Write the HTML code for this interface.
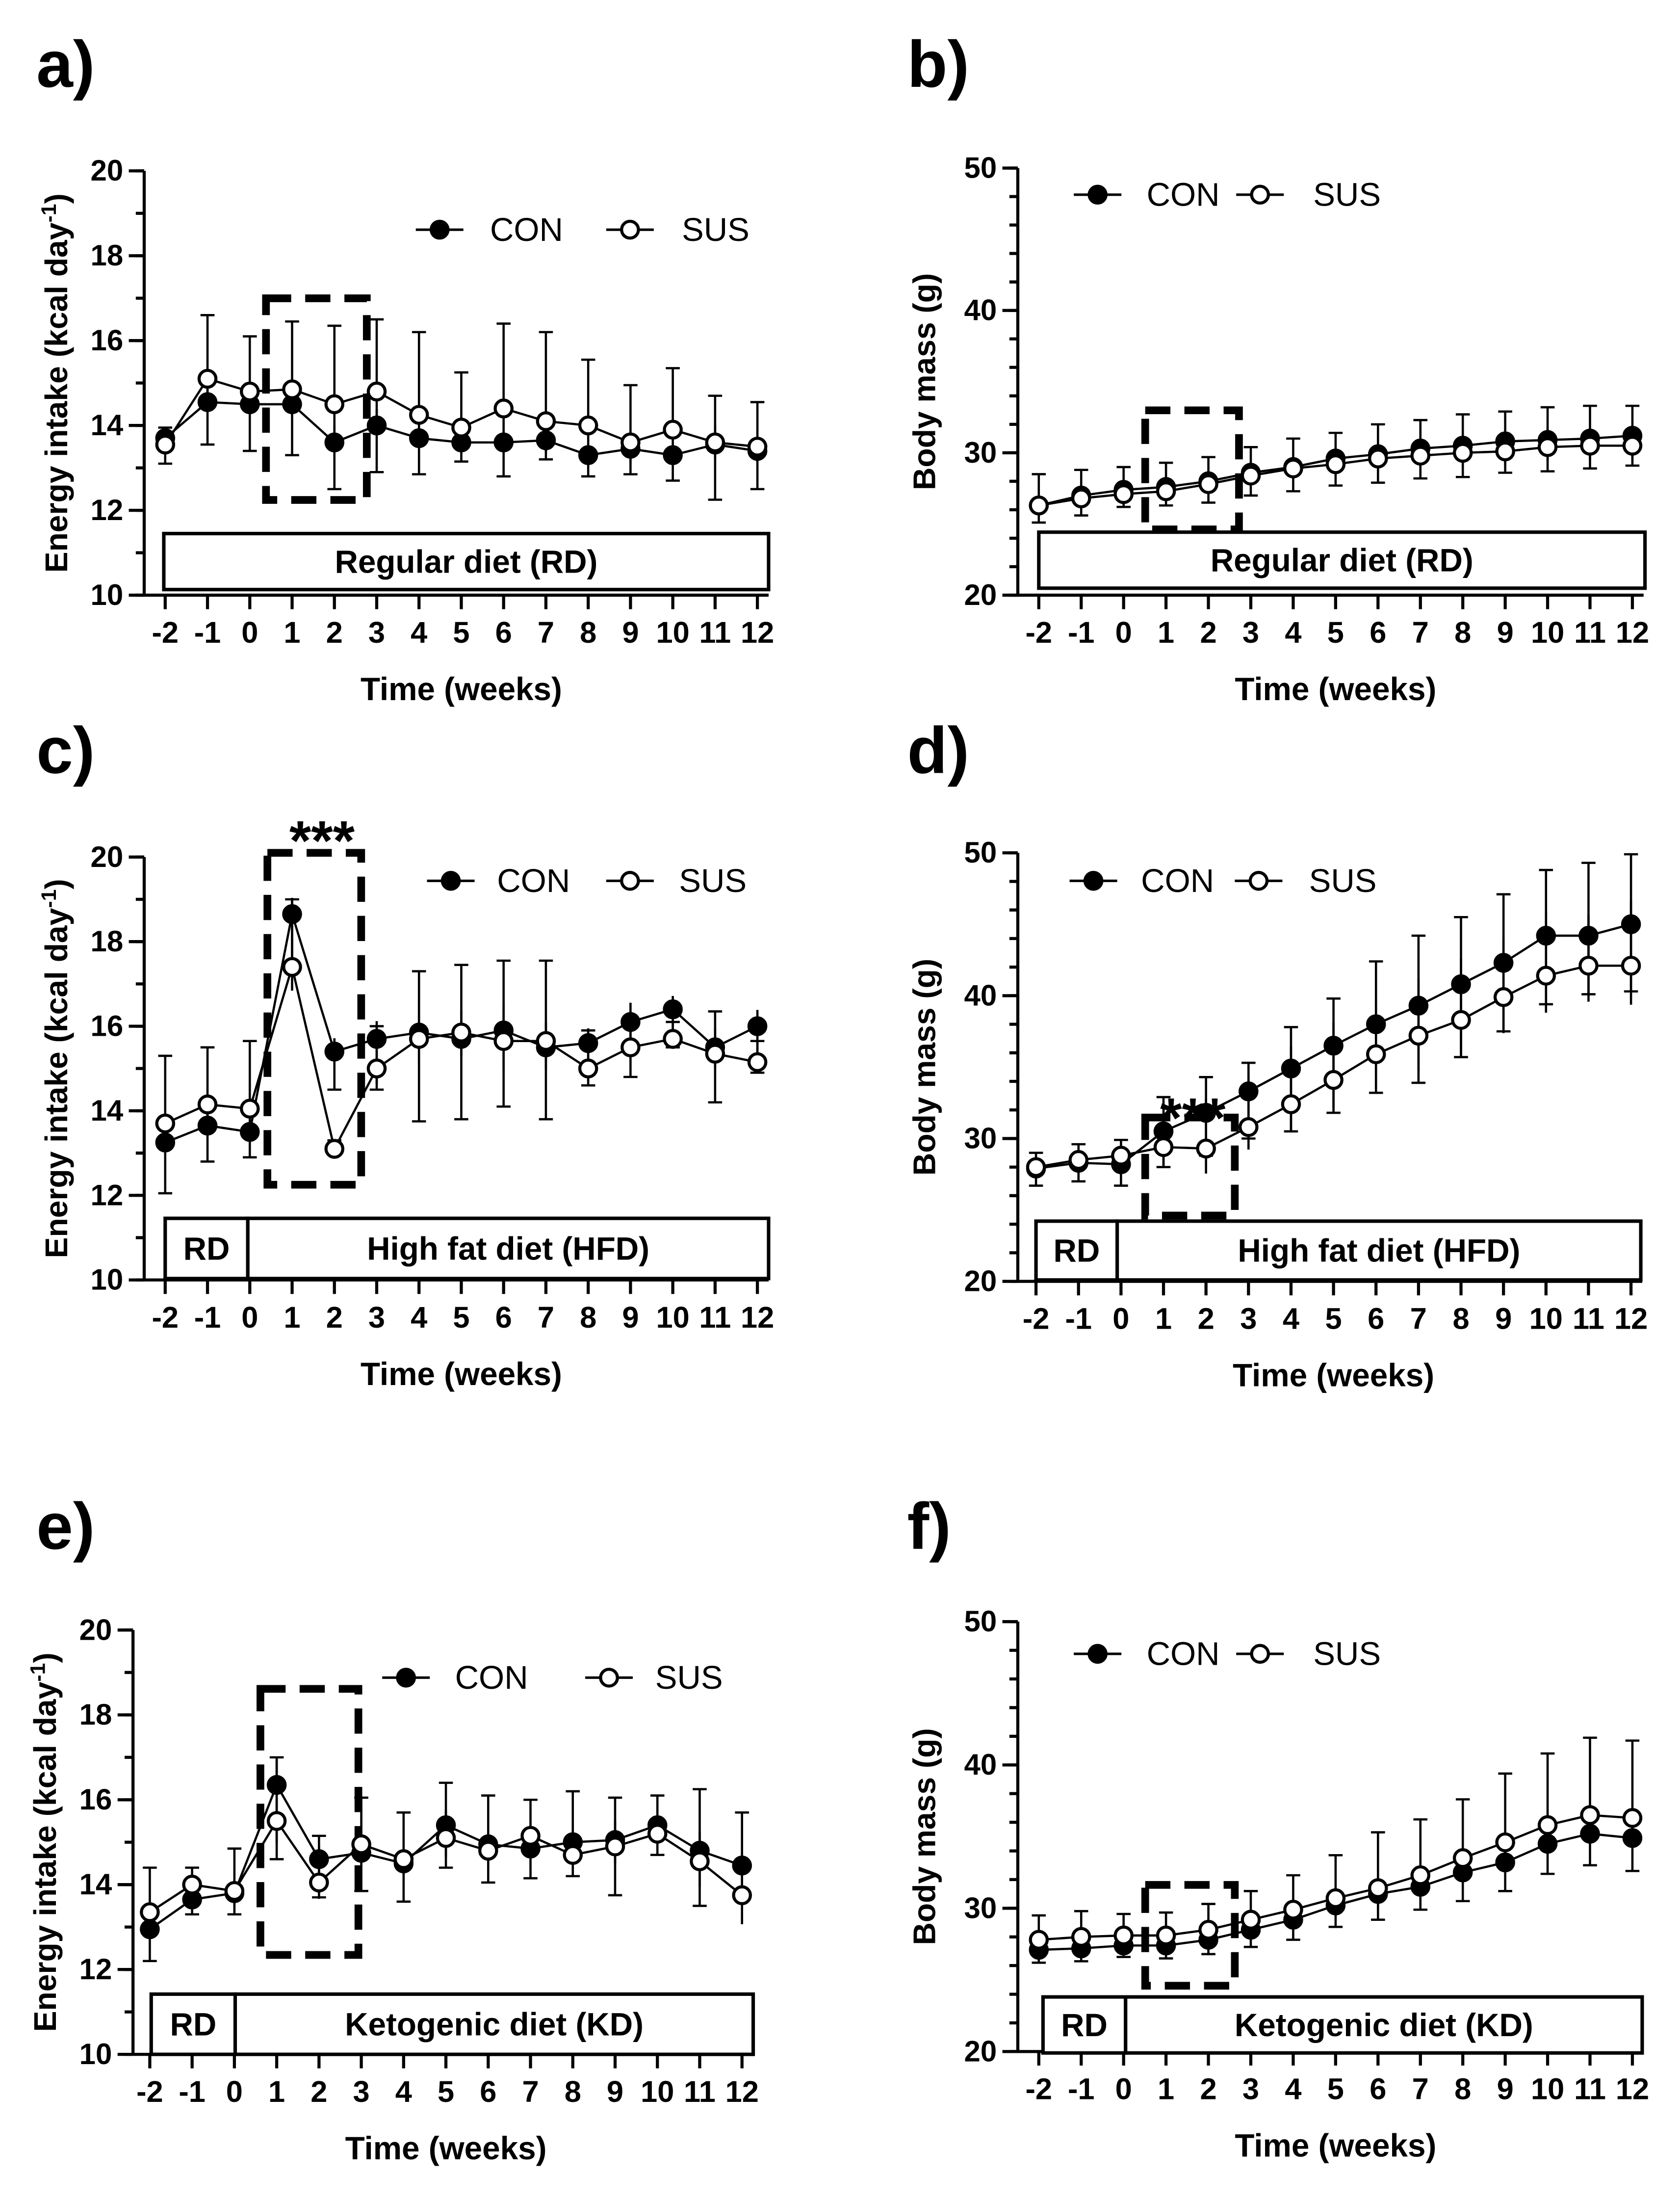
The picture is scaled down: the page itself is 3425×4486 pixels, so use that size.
<!DOCTYPE html>
<html><head><meta charset="utf-8"><style>
html,body{margin:0;padding:0;background:#fff}
svg{display:block}
text{font-family:"Liberation Sans",Arial,sans-serif}
</style></head><body>
<svg id="fig" xmlns="http://www.w3.org/2000/svg" width="3425" height="4486" viewBox="0 0 1200 1571.7">
<rect width="1200" height="1571.7" fill="#fff"/>
</svg>
<script>
const weeks=[-2,-1,0,1,2,3,4,5,6,7,8,9,10,11,12];
const aCon=[13.7,14.55,14.5,14.5,13.6,14.0,13.7,13.6,13.6,13.65,13.3,13.45,13.3,13.55,13.4];
const aConErr=[0.6,1.0,1.1,1.2,1.1,1.1,0.85,0.45,0.8,0.45,0.5,0.6,0.6,1.3,0.9];
const aSus=[13.55,15.1,14.8,14.85,14.5,14.8,14.25,13.95,14.4,14.1,14.0,13.6,13.9,13.6,13.5];
const aSusErr=[0.4,1.5,1.3,1.6,1.85,1.7,1.95,1.3,2.0,2.1,1.55,1.35,1.45,1.1,1.05];
const bCon=[26.3,27.0,27.4,27.6,28.0,28.6,29.0,29.6,29.9,30.3,30.5,30.8,30.9,31.0,31.2];
const bConErr=[1.2,1.4,1.2,1.3,1.5,1.6,1.7,1.9,2.0,2.1,2.2,2.2,2.2,2.1,2.1];
const bSus=[26.3,26.8,27.1,27.3,27.8,28.4,28.9,29.2,29.6,29.8,30.0,30.1,30.4,30.5,30.5];
const bSusErr=[2.2,2.0,1.9,2.0,1.9,2.0,2.1,2.2,2.4,2.5,2.7,2.8,2.8,2.8,2.8];
const cCon=[13.25,13.65,13.5,18.65,15.4,15.7,15.85,15.7,15.9,15.5,15.6,16.1,16.4,15.5,16.0];
const cConErr=[1.2,0.85,0.6,1.1,0.9,1.2,2.1,1.9,1.8,1.7,1.0,1.3,0.9,1.3,1.1];
const cSus=[13.7,14.15,14.05,17.4,13.1,15.0,15.7,15.85,15.65,15.65,15.0,15.5,15.7,15.35,15.15];
const cSusErr=[1.6,1.35,1.6,1.6,0.2,1.0,1.6,1.6,1.9,1.9,0.9,0.5,0.4,1.0,0.5];
const dCon=[27.9,28.3,28.2,30.5,31.8,33.3,34.9,36.5,38.0,39.3,40.8,42.3,44.2,44.2,45.0];
const dConErr=[1.2,1.3,1.5,2.5,3.0,3.3,4.4,4.7,4.8,5.4,5.1,4.8,4.8,4.1,4.7];
const dSus=[28.0,28.5,28.8,29.4,29.3,30.8,32.4,34.1,35.9,37.2,38.3,39.9,41.4,42.1,42.1];
const dSusErr=[1.0,1.1,1.1,3.5,5.0,4.5,5.4,5.7,6.5,7.0,7.2,7.2,7.4,7.2,7.8];
const eCon=[12.95,13.65,13.8,16.35,14.6,14.75,14.5,15.4,14.95,14.85,15.0,15.05,15.4,14.8,14.45];
const eConErr=[0.75,0.35,0.5,1.75,0.9,0.9,0.9,1.0,0.9,0.7,0.8,1.3,0.7,1.3,0.75];
const eSus=[13.35,14.0,13.85,15.5,14.05,14.95,14.6,15.1,14.8,15.15,14.7,14.9,15.2,14.55,13.75];
const eSusErr=[1.05,0.4,1.0,1.5,1.1,1.1,1.1,1.3,1.3,0.85,1.5,1.15,0.9,1.7,1.95];
const fCon=[27.1,27.2,27.4,27.4,27.8,28.5,29.2,30.2,31.0,31.5,32.5,33.2,34.5,35.2,34.9];
const fConErr=[0.9,0.9,0.8,0.9,1.0,1.2,1.4,1.5,1.8,1.6,2.0,2.0,2.1,2.2,2.3];
const fSus=[27.8,28.0,28.1,28.1,28.5,29.2,29.9,30.7,31.4,32.3,33.5,34.6,35.8,36.5,36.3];
const fSusErr=[1.7,1.8,1.5,1.6,1.8,2.0,2.4,3.0,3.9,3.9,4.1,4.8,5.0,5.4,5.4];
const eiTicks=[10,12,14,16,18,20];
const bmTicks=[20,30,40,50];

const svg=document.getElementById('fig');
const NS='http://www.w3.org/2000/svg';
function el(tag,attrs,parent,txt){const e=document.createElementNS(NS,tag);for(const k in attrs)e.setAttribute(k,attrs[k]);if(txt!==undefined)e.textContent=txt;(parent||svg).appendChild(e);return e;}

function panel(p){
  const g=el('g',{},svg);
  
  
  const xs=w=>p.x0+(w-(-2))*(p.x1-p.x0)/14;
  const ys=v=>p.yb-(v-p.ymin)*(p.yb-p.yt)/(p.ymax-p.ymin);
  const lbl=el('text',{x:p.lx,y:p.ly,'font-size':47,'font-weight':'bold'},g,p.id+')');
  
  
  const ax=el('g',{stroke:'#000','stroke-width':2.2},g);
  
  
  el('line',{x1:p.ax,y1:ys(p.ymax),x2:p.ax,y2:ys(p.ymin)},ax);
  for(let v=p.ymin;v<=p.ymax+1e-9;v+=p.minor)el('line',{x1:p.ax-6,y1:ys(v),x2:p.ax,y2:ys(v)},ax);
  p.ticks.forEach(v=>{
    el('line',{x1:p.ax-11,y1:ys(v),x2:p.ax,y2:ys(v)},ax);
    const t=el('text',{x:p.ax-15,y:ys(v)+7,'font-size':21,'font-weight':'bold','text-anchor':'end'},g,v);
    
    
  });
  const bx=el('g',{stroke:'#000','stroke-width':2.2},g);
  
  
  el('line',{x1:p.ax,y1:p.yb,x2:xs(12)+8,y2:p.yb},bx);
  weeks.forEach(w=>{
    el('line',{x1:xs(w),y1:p.yb,x2:xs(w),y2:p.yb+10},bx);
    const t=el('text',{x:xs(w),y:p.yb+34,'font-size':21.5,'font-weight':'bold','text-anchor':'middle'},g,w);
    
    
  });
  const xt=el('text',{x:(xs(-2)+xs(12))/2,y:p.yb+75,'font-size':23,'font-weight':'bold','text-anchor':'middle'},g,'Time (weeks)');
  
  
  const yt=el('text',{transform:`translate(${p.ytx},${(p.yt+p.yb)/2}) rotate(-90)`,'font-size':22.5,'font-weight':'bold','text-anchor':'middle'},g);
  
  
  if(p.ei){yt.textContent='Energy intake (kcal day';el('tspan',{dy:-8,'font-size':15},yt,'-1');el('tspan',{dy:8},yt,')');}
  else yt.textContent='Body mass (g)';
  p.boxes.forEach(b=>{
    const r=el('rect',{x:b[0],y:p.boxY,width:b[1]-b[0],height:p.boxH,fill:'#fff',stroke:'#000','stroke-width':2.5},g);
    
    
    const t=el('text',{x:(b[0]+b[1])/2,y:p.boxY+p.boxH/2+8,'font-size':23,'font-weight':'bold','text-anchor':'middle'},g,b[2]);
    
    
  });
  const d=p.dash;
  const dr=el('rect',{x:d[0],y:d[1],width:d[2]-d[0],height:d[3]-d[1],fill:'none',stroke:'#000','stroke-width':5.5,'stroke-dasharray':'18,10'},g);
  
  
  if(p.star){const st=el('text',{x:p.star[0],y:p.star[1],'font-size':40,'font-weight':'bold','text-anchor':'middle'},g,'***');
    
    }
  const series=[[p.con,p.conErr,'#000','con'],[p.sus,p.susErr,'#fff','sus']];
  series.forEach(s=>{
    const sg=el('g',{},g);
    
    
    s[0].forEach((v,i)=>{
      const x=xs(weeks[i]);
      const up=s[3]==='sus'?1:-1;
      el('line',{x1:x,y1:ys(v),x2:x,y2:ys(v+up*s[1][i]),stroke:'#000','stroke-width':1.6},sg);
      el('line',{x1:x-5,y1:ys(v+up*s[1][i]),x2:x+5,y2:ys(v+up*s[1][i]),stroke:'#000','stroke-width':1.6},sg);
      el('line',{x1:x,y1:ys(v),x2:x,y2:ys(v-up*s[1][i]*0.35),stroke:'#000','stroke-width':1.6},sg);
    });
    el('polyline',{points:s[0].map((v,i)=>xs(weeks[i])+','+ys(v)).join(' '),fill:'none',stroke:'#000','stroke-width':1.6},sg);
  });
  series.forEach(s=>{
    s[0].forEach((v,i)=>{
      const c=el('circle',{cx:xs(weeks[i]),cy:ys(v),r:6,fill:s[2],stroke:'#000','stroke-width':2.2},g);
      
      
    });
  });
  const L=p.leg;
  const lg=el('g',{},g);
  
  
  [[L[0],'CON','#000'],[L[2],'SUS','#fff']].forEach((e,k)=>{
    const it=el('g',{},lg);
    
    
    el('line',{x1:e[0]-17,y1:L[4],x2:e[0]+17,y2:L[4],stroke:'#000','stroke-width':1.8},it);
    el('circle',{cx:e[0],cy:L[4],r:6,fill:e[2],stroke:'#000','stroke-width':2.2},it);
    el('text',{x:k?L[3]:L[1],y:L[4]+8,'font-size':23.5},it,e[1]);
  });
}

panel({id:'a',ei:true,lx:26,ly:62,ax:103,x0:118,x1:541,yt:122,yb:425,ymin:10,ymax:20,minor:1,ticks:eiTicks,ytx:48,
  boxes:[[117,549,'Regular diet (RD)']],boxY:381,boxH:40,dash:[190,213,262,357],
  con:aCon,conErr:aConErr,sus:aSus,susErr:aSusErr,leg:[314,350,450,487,164]});
panel({id:'b',ei:false,lx:648,ly:62,ax:727,x0:742,x1:1166,yt:120,yb:425,ymin:20,ymax:50,minor:2,ticks:bmTicks,ytx:668,
  boxes:[[742,1175,'Regular diet (RD)']],boxY:380,boxH:40,dash:[818,293,885,378],
  con:bCon,conErr:bConErr,sus:bSus,susErr:bSusErr,leg:[784,819,900,938,139]});
panel({id:'c',ei:true,lx:26,ly:552,ax:103,x0:118,x1:541,yt:612,yb:914,ymin:10,ymax:20,minor:1,ticks:eiTicks,ytx:48,
  boxes:[[118,177,'RD'],[177,549,'High fat diet (HFD)']],boxY:870,boxH:43,dash:[191,609,258,846],star:[230,614],
  con:cCon,conErr:cConErr,sus:cSus,susErr:cSusErr,leg:[322,355,450,485,629]});
panel({id:'d',ei:false,lx:648,ly:552,ax:727,x0:740,x1:1165,yt:609,yb:915,ymin:20,ymax:50,minor:2,ticks:bmTicks,ytx:668,
  boxes:[[740,798,'RD'],[798,1172,'High fat diet (HFD)']],boxY:872,boxH:42,dash:[818,798,882,868],star:[852,812],
  con:dCon,conErr:dConErr,sus:dSus,susErr:dSusErr,leg:[781,815,899,935,629]});
panel({id:'e',ei:true,lx:26,ly:1106,ax:95,x0:107,x1:530,yt:1164,yb:1467,ymin:10,ymax:20,minor:1,ticks:eiTicks,ytx:40,
  boxes:[[108,168,'RD'],[168,538,'Ketogenic diet (KD)']],boxY:1424,boxH:43,dash:[186,1206,256,1396],
  con:eCon,conErr:eConErr,sus:eSus,susErr:eSusErr,leg:[290,325,435,468,1198]});
panel({id:'f',ei:false,lx:648,ly:1106,ax:727,x0:742,x1:1166,yt:1158,yb:1465,ymin:20,ymax:50,minor:2,ticks:bmTicks,ytx:668,
  boxes:[[745,804,'RD'],[804,1173,'Ketogenic diet (KD)']],boxY:1426,boxH:40,dash:[818,1346,882,1418],
  con:fCon,conErr:fConErr,sus:fSus,susErr:fSusErr,leg:[784,819,900,938,1181]});
</script>
</body></html>
